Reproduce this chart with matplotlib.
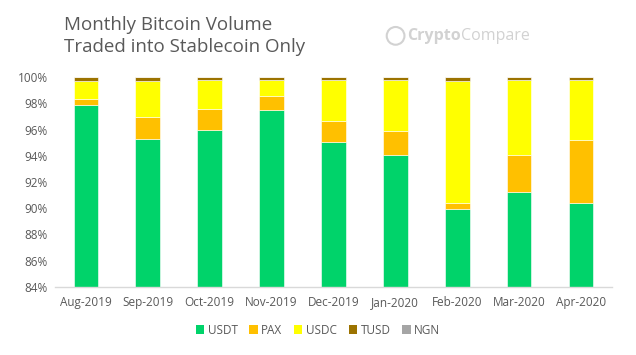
"""Monthly Bitcoin volume traded into stablecoins, stacked share per month."""

import numpy as np
import matplotlib.pyplot as plt
from matplotlib.patches import Ellipse

plt.rcParams['font.family'] = ['Open Sans', 'DejaVu Sans']

months = ['Aug-2019', 'Sep-2019', 'Oct-2019', 'Nov-2019', 'Dec-2019',
          'Jan-2020', 'Feb-2020', 'Mar-2020', 'Apr-2020']
usdt = [97.91, 95.31, 96.00, 97.52, 95.03, 94.04, 89.96, 91.26, 90.42]
pax = [0.46, 1.68, 1.56, 1.07, 1.65, 1.86, 0.46, 2.80, 4.79]
usdc = [1.32, 2.70, 2.23, 1.23, 3.14, 3.87, 9.27, 5.71, 4.61]
tusd = [0.31, 0.31, 0.21, 0.18, 0.18, 0.23, 0.31, 0.23, 0.18]
ngn = [0.0, 0.0, 0.0, 0.0, 0.0, 0.0, 0.0, 0.0, 0.0]

series = [('USDT', usdt, '#00D36A'), ('PAX', pax, '#FFC000'),
          ('USDC', usdc, '#FFFF00'), ('TUSD', tusd, '#9C7300'),
          ('NGN', ngn, '#A5A5A5')]

text_col = '#595959'
logo_col = '#d2d2d2'

fig = plt.figure(figsize=(6.36, 3.55), dpi=100)
ax = fig.add_axes([0.0865, 0.1924, 0.8755, 0.5898])

x = np.arange(len(months))
bottom = np.zeros(len(months))
for name, vals, col in series:
    vals = np.array(vals)
    ax.bar(x, vals, width=0.40, bottom=bottom, color=col, label=name,
           edgecolor='#ffffff', linewidth=0.4)
    bottom += vals

ax.set_xlim(-0.5, len(months) - 0.5)
ax.set_ylim(84, 100)
ax.set_yticks(np.arange(84, 101, 2))
ax.set_yticklabels([f'{v}%' for v in range(84, 101, 2)])
ax.set_xticks(x)
ax.set_xticklabels(months)
ax.tick_params(axis='both', length=0, colors=text_col, labelsize=8.5)
ax.tick_params(axis='x', pad=7)
ax.tick_params(axis='y', pad=5)
for s in ['top', 'right', 'left']:
    ax.spines[s].set_visible(False)
ax.spines['bottom'].set_color('#d9d9d9')
ax.spines['bottom'].set_linewidth(1)

fig.text(0.100, 0.956, 'Monthly Bitcoin Volume\nTraded into Stablecoin Only',
         fontsize=13.5, color=text_col, va='top', ha='left', linespacing=1.3)

# logo
logo_y = 0.899
t1 = fig.text(0.640, logo_y, 'Crypto', fontsize=11.5, color=logo_col,
              fontweight='bold', va='center', ha='left')
fig.canvas.draw()
bb = t1.get_window_extent().transformed(fig.transFigure.inverted())
fig.text(bb.x1, logo_y, 'Compare', fontsize=11.5, color=logo_col,
         va='center', ha='left')
fig.patches.append(Ellipse((0.622, logo_y), 0.050 * 355 / 636, 0.050,
                           transform=fig.transFigure, fill=False,
                           edgecolor=logo_col, linewidth=1.5, figure=fig))

leg = fig.legend(loc='center', bbox_to_anchor=(0.5, 0.07), ncol=5,
                 frameon=False, fontsize=8.5, handlelength=0.7,
                 handleheight=0.7, handletextpad=0.3, columnspacing=1.0)
for t in leg.get_texts():
    t.set_color(text_col)
for h in leg.legend_handles:
    h.set_edgecolor('none')

fig.savefig('out.png', dpi=100)
plt.close(fig)
